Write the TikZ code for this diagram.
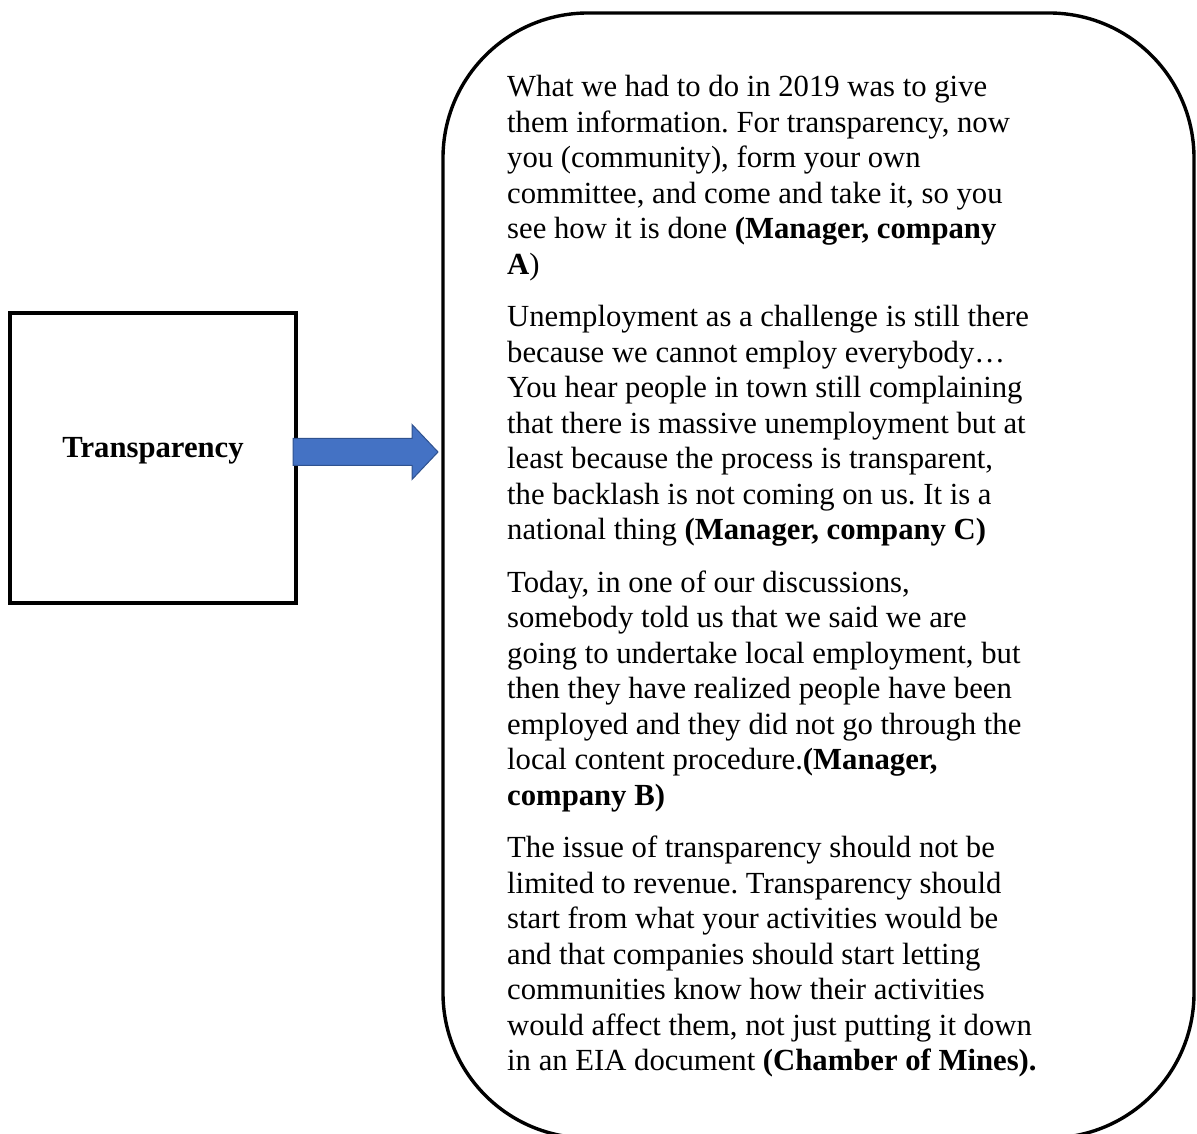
\documentclass[tikz,border=0pt]{standalone}
\usepackage{fontspec}
\setmainfont{Liberation Serif}
\usetikzlibrary{calc}

\definecolor{arrowfill}{HTML}{4472C4}
\definecolor{arrowedge}{HTML}{2F528F}

\tikzset{
  themebox/.style={draw=black, line width=3.2pt, fill=white, outer sep=0pt,
    minimum width=286pt, minimum height=290pt, inner sep=0pt},
  quotebox/.style={draw=black, line width=3.4pt, outer sep=0pt, inner sep=0pt,
    rounded corners=145pt, minimum width=751pt, minimum height=1125pt},
  quotetext/.style={anchor=base west, inner sep=0pt, text width=680pt,
    font=\fontsize{30.7}{35.5}\selectfont},
  labeltext/.style={anchor=base, inner sep=0pt, font=\fontsize{30.7}{35.5}\selectfont\bfseries},
  blockarrow/.style={fill=arrowfill, draw=arrowedge, line width=1pt, line join=miter}
}

\begin{document}
\begin{tikzpicture}[x=1pt, y=1pt]
  \useasboundingbox (0,0) rectangle (1197,1133);

  % theme box on the left
  \node[themebox] (theme) at (153,675) {};
  \node[labeltext] (themelabel) at (153,675) {Transparency};

  % large rounded box holding the quotations
  \node[quotebox] (quotes) at (818.5,557.5) {};

  \node[quotetext] (quotetxt) at (507,1036) {%
    \raggedright\frenchspacing
    \spaceskip=0.25em\relax \xspaceskip=0.25em\relax
    \setlength{\parskip}{17pt}%
    What we had to do in 2019 was to give\\
    them information. For transparency, now\\
    you (community), form your own\\
    committee, and come and take it, so you\\
    see how it is done \textbf{(Manager, company}\\
    \textbf{A})\par
    Unemployment as a challenge is still there\\
    because we cannot employ everybody…\\
    You hear people in town still complaining\\
    that there is massive unemployment but at\\
    least because the process is transparent,\\
    the backlash is not coming on us. It is a\\
    national thing \textbf{(Manager, company C)}\par
    Today, in one of our discussions,\\
    somebody told us that we said we are\\
    going to undertake local employment, but\\
    then they have realized people have been\\
    employed and they did not go through the\\
    local content procedure.\textbf{(Manager,}\\
    \textbf{company B)}\par
    The issue of transparency should not be\\
    limited to revenue. Transparency should\\
    start from what your activities would be\\
    and that companies should start letting\\
    communities know how their activities\\
    would affect them, not just putting it down\\
    in an EIA document \textbf{(Chamber of Mines).}};

  % block arrow from the theme box to the quotation box
  \coordinate (arrowstart) at ($(theme.east)+(-3,6)$);
  \coordinate (arrowtip) at ($(quotes.west |- arrowstart)+(-5,0)$);
  \draw[blockarrow]
    ($(arrowstart)+(0,13.5)$) -- ($(arrowtip)+(-26,13.5)$) -- ($(arrowtip)+(-26,27.5)$)
    -- (arrowtip) -- ($(arrowtip)+(-26,-27.5)$) -- ($(arrowtip)+(-26,-13.5)$)
    -- ($(arrowstart)+(0,-13.5)$) -- cycle;
\end{tikzpicture}
\end{document}
